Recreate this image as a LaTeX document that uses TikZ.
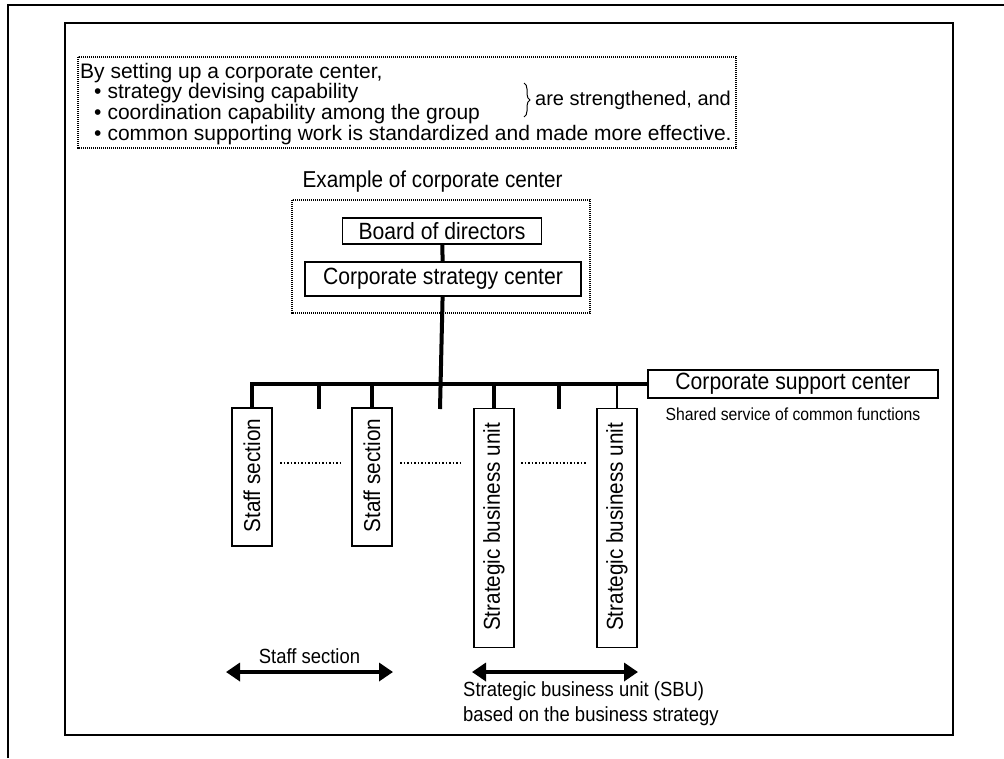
\documentclass[tikz,border=0pt]{standalone}
\usepackage{fontspec}
\setmainfont{Liberation Sans}[FakeStretch=0.9]
\newfontfamily\plainsans{Liberation Sans}
\usetikzlibrary{positioning,arrows.meta,decorations.pathreplacing}

\begin{document}
\begin{tikzpicture}[x=1pt, y=-1pt,
  txt/.style={inner sep=0pt, font=\plainsans\fontsize{21}{19.3}\selectfont},
  small/.style={inner sep=0pt, font=\fontsize{20.5}{22}\selectfont},
  box/.style={draw, line width=1.3pt, inner sep=0pt, font=\fontsize{23.5}{26}\selectfont},
  vbox/.style={box, rotate=90, minimum height=40pt},
  vlab/.style={inner sep=0pt, rotate=90, anchor=west, font=\fontsize{23}{26}\selectfont},
  frame/.style={line width=1.6pt},
  dotbox/.style={draw, line width=1.6pt, dash pattern=on 1.2pt off 0.8pt},
  bar/.style={line width=4pt},
  filler/.style={line width=1.2pt, dash pattern=on 1.5pt off 2pt},
  span/.style={line width=4pt, {Triangle[length=14pt,width=18pt]}-{Triangle[length=14pt,width=18pt]}}]
\useasboundingbox (0,0) rectangle (1004,758);

% frames
\draw[frame] (8,758) -- (8,5) -- (1004,5);
\draw[frame] (65,23) rectangle (953,735);

% top statement
\draw[dotbox] (78,57) rectangle (736,148);
\node[txt, align=left, anchor=north west] (intro) at (80,63)
  {By setting up a corporate center,\\
   \hspace*{14pt}\textbullet\hspace{6pt}strategy devising capability\\
   \hspace*{14pt}\textbullet\hspace{6pt}coordination capability among the group\\
   \hspace*{14pt}\textbullet\hspace{6pt}common supporting work is standardized and made more effective.};
\draw[line width=1pt, decorate, decoration={brace, amplitude=6pt}] (524,83) -- (524,117);
\node[txt, anchor=west, font=\plainsans\fontsize{20}{22}\selectfont] (strong) at (535,100) {are strengthened, and};

% corporate center
\node[box, draw=none, anchor=west, font=\fontsize{23}{26}\selectfont] (example) at (302,182) {Example of corporate center};
\draw[dotbox] (292,200) rectangle (590,313);
\node[box, minimum width=199pt, minimum height=26pt] (board) at (442,231) {Board of directors};
\node[box, minimum width=276pt, minimum height=34pt] (strategy) at (443,279) {Corporate strategy center};
\node[box, minimum width=290pt, minimum height=28pt] (support) at (793,384) {Corporate support center};
\node[small, font=\fontsize{17.5}{20}\selectfont, below=9pt of support] (shared) {Shared service of common functions};

% units
\node[vbox, minimum width=138pt] (staffA) at (252,477) {};
\node[vbox, minimum width=138pt] (staffB) at (372,477) {};
\node[vbox, minimum width=239pt] (sbuA) at (494,528) {};
\node[vbox, minimum width=239pt] (sbuB) at (617,528) {};
\node[vlab] (staffAlab) at ([yshift=14pt]staffA.west) {Staff section};
\node[vlab] (staffBlab) at ([yshift=14pt]staffB.west) {Staff section};
\node[vlab] (sbuAlab) at ([yshift=17pt]sbuA.west) {Strategic business unit};
\node[vlab] (sbuBlab) at ([yshift=17pt]sbuB.west) {Strategic business unit};

% organisation lines
\coordinate (bus) at (440,384);
\coordinate (tickA) at (319,409);
\coordinate (tickB) at (440,409);
\coordinate (tickC) at (559,409);
\draw[bar] (board) -- (strategy);
\draw[bar] (strategy) -- (tickB);
\draw[bar] (staffA.east) |- (support.west);
\draw[bar] (tickA |- bus) -- (tickA);
\draw[bar] (staffB.east) -- (staffB.east |- bus);
\draw[bar] (sbuA.east) -- (sbuA.east |- bus);
\draw[bar] (tickC |- bus) -- (tickC);
\draw[line width=1.5pt] (sbuB.east) -- (sbuB.east |- bus);

% fillers between units
\coordinate (fillA) at (280,463);
\coordinate (fillB) at (343,463);
\coordinate (fillC) at (400,463);
\coordinate (fillD) at (463,463);
\coordinate (fillE) at (521,463);
\coordinate (fillF) at (586,463);
\draw[filler] (fillA) -- (fillB);
\draw[filler] (fillC) -- (fillD);
\draw[filler] (fillE) -- (fillF);

% spans
\coordinate (staffL) at (226,672);
\coordinate (staffR) at (393,672);
\coordinate (sbuL) at (472,672);
\coordinate (sbuR) at (638,672);
\draw[span] (staffL) -- node[small, above=6pt] (staffcap) {Staff section} (staffR);
\draw[span] (sbuL) -- (sbuR);
\node[small, anchor=west] (sbucap) at (463,691) {Strategic business unit (SBU)};
\node[small, anchor=west] (sbubase) at (463,716) {based on the business strategy};
\end{tikzpicture}
\end{document}
